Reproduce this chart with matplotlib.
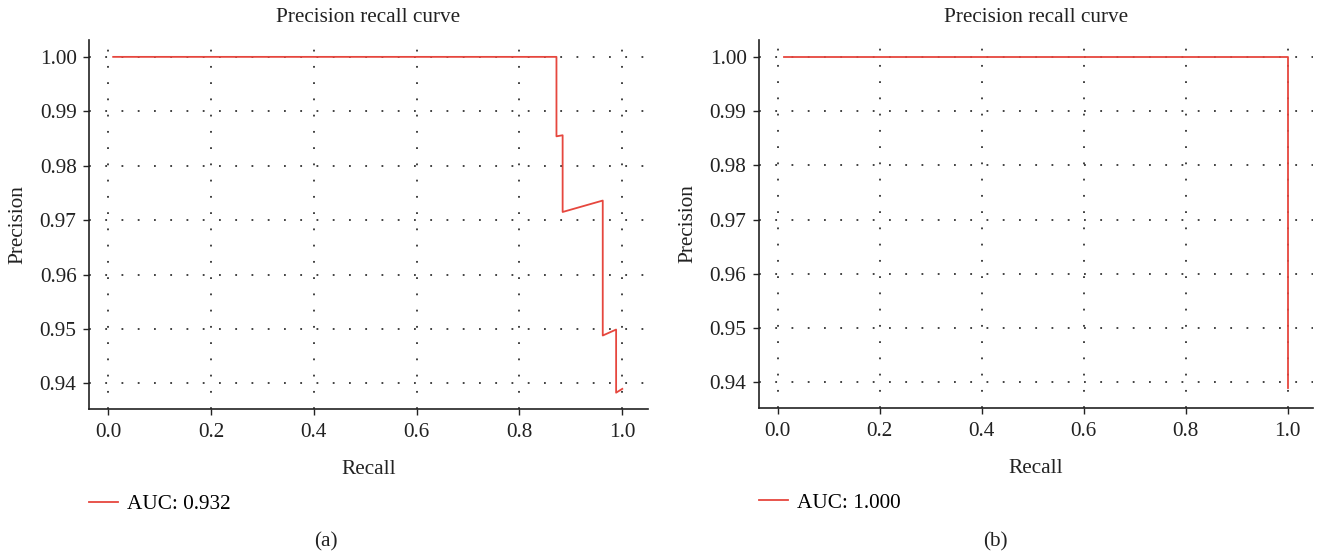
import matplotlib
matplotlib.use("Agg")
import matplotlib.pyplot as plt

plt.rcParams['font.family'] = ['Liberation Serif', 'DejaVu Serif']

# Data
recall_a = [0.010, 0.872, 0.872, 0.884, 0.884, 0.962, 0.962, 0.988, 0.988, 1.000]
precision_a = [1.000, 1.000, 0.9854, 0.9856, 0.9715, 0.9736, 0.9488, 0.9499, 0.9383, 0.9390]
recall_b = [0.012, 1.000, 1.000]
precision_b = [1.000, 1.000, 0.939]
auc_labels = ["AUC: 0.932", "AUC: 1.000"]
panel_labels = ["(a)", "(b)"]
x_ticks = [0.0, 0.2, 0.4, 0.6, 0.8, 1.0]
y_ticks = [0.94, 0.95, 0.96, 0.97, 0.98, 0.99, 1.00]

W, H = 1322, 557
fig = plt.figure(figsize=(W / 100, H / 100), dpi=100)

line_color = '#e6473e'
fs = 15.3

def px_axes(l, r, t, b):
    return fig.add_axes([l / W, 1 - b / H, (r - l) / W, (b - t) / H])

axes = [px_axes(89, 648, 40, 409), px_axes(759, 1313, 40, 408)]
data = [(recall_a, precision_a), (recall_b, precision_b)]

for i, ax in enumerate(axes):
    r, p = data[i]
    ax.plot(r, p, color=line_color, lw=1.3, label=auc_labels[i])
    ax.set_xlim(-0.037, 1.050)
    ax.set_ylim(0.9353, 1.0031)
    ax.set_xticks(x_ticks)
    ax.set_xticklabels([f"{v:.1f}" for v in x_ticks])
    ax.set_yticks(y_ticks)
    ax.set_yticklabels([f"{v:.2f}" for v in y_ticks])
    for s in ['top', 'right']:
        ax.spines[s].set_visible(False)
    for s in ['left', 'bottom']:
        ax.spines[s].set_linewidth(1.2)
        ax.spines[s].set_color('#222222')
    ax.tick_params(axis='both', labelsize=fs, length=4, width=1.0,
                   color='#222222', labelcolor='#222222', pad=5)
    ax.tick_params(axis='x', pad=6)
    ax.grid(True, color='#333333', linestyle=(0, (1.0, 8.0)), linewidth=1.3)
    ax.set_axisbelow(True)
    ax.set_title("Precision recall curve", fontsize=fs, color='#222222', pad=13)
    ax.set_xlabel("Recall", fontsize=fs, color='#222222', labelpad=13)
    ax.set_ylabel("Precision", fontsize=fs, color='#222222', labelpad=9)
    ax.legend(loc='center left', bbox_to_anchor=(0.0, -0.258), frameon=False,
              fontsize=fs, handlelength=1.35, handletextpad=0.45,
              borderaxespad=0, borderpad=0)

fig.text(326 / W, 1 - 542 / H, panel_labels[0], fontsize=fs, ha='center', va='center', color='#222222')
fig.text(995 / W, 1 - 542 / H, panel_labels[1], fontsize=fs, ha='center', va='center', color='#222222')

fig.savefig("out.png", dpi=100)
